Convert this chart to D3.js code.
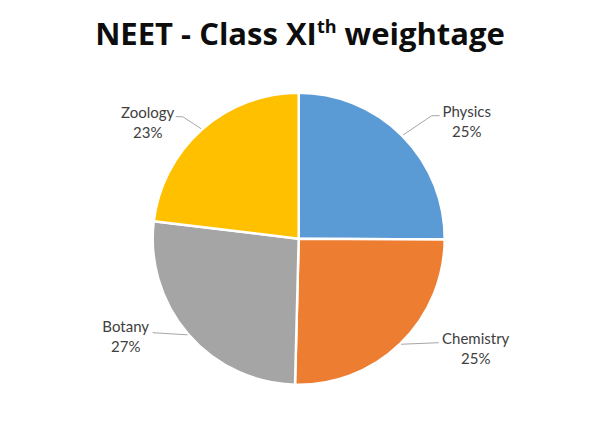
<!DOCTYPE html>
<html>
<head>
<meta charset="utf-8">
<script src="https://cdn.jsdelivr.net/npm/d3@7"></script>
<style>
  body { margin: 0; background: #fff; }
</style>
</head>
<body>
<div id="chart"></div>
<script>
// data
const subjects = ['Physics', 'Chemistry', 'Botany', 'Zoology'];
const weights = [25.1, 25.3, 26.5, 23.1];
const colors = ['#5B9BD5', '#ED7D31', '#A5A5A5', '#FFC000'];

const sWidth = 600, sHeight = 427;
const cx = 298.7, cy = 238.7, radius = 146;

// leader elbow / text placement (Excel best-fit style), relative to centre
const labelLayout = {
  Physics:   { elbow: [133, -123], end: [141, -123], tx: 168, ty: -122 },
  Chemistry: { elbow: [140, 104], end: [140, 104], tx: 177, ty: 105 },
  Botany:    { elbow: [-146, 94], end: [-146, 94], tx: -173, ty: 93 },
  Zoology:   { elbow: [-116, -122], end: [-123, -122], tx: -151, ty: -121 }
};

const data = subjects.map((s, i) => ({ name: s, value: weights[i], color: colors[i] }));
const total = d3.sum(weights);

const svg = d3.select('#chart').append('svg')
  .attr('width', sWidth)
  .attr('height', sHeight);

// title
const title = svg.append('text')
  .attr('x', sWidth / 2)
  .attr('y', 45)
  .attr('text-anchor', 'middle')
  .style('font-family', '"Open Sans", sans-serif')
  .style('font-weight', 700)
  .style('font-size', '31px')
  .style('fill', '#0d0d0d');
title.append('tspan').text('NEET - Class XI');
title.append('tspan').attr('dy', -12).style('font-size', '18px').text('th');
title.append('tspan').attr('dy', 12).text(' weightage');

const pie = d3.pie()
  .sort(null)
  .value(d => d.value);

const arc = d3.arc()
  .innerRadius(0)
  .outerRadius(radius);

const arcs = pie(data);

const g = svg.append('g')
  .attr('transform', 'translate(' + cx + ',' + cy + ')');

g.selectAll('path')
  .data(arcs)
  .join('path')
    .attr('d', arc)
    .attr('fill', d => d.data.color)
    .attr('stroke', '#fff')
    .attr('stroke-width', 2.5)
    .attr('stroke-linejoin', 'round');

// leader lines
g.selectAll('polyline')
  .data(arcs)
  .join('polyline')
    .attr('points', d => {
      const a = (d.startAngle + d.endAngle) / 2;
      const start = [Math.sin(a) * (radius + 1), -Math.cos(a) * (radius + 1)];
      const lay = labelLayout[d.data.name];
      return [start, lay.elbow, lay.end].map(p => p.join(',')).join(' ');
    })
    .attr('fill', 'none')
    .attr('stroke', '#a6a6a6')
    .attr('stroke-width', 1);

// labels
const labels = g.selectAll('text.lbl')
  .data(arcs)
  .join('text')
    .attr('class', 'lbl')
    .attr('text-anchor', 'middle')
    .style('font-family', 'Lato, sans-serif')
    .style('font-size', '15px')
    .style('fill', '#404040');

labels.append('tspan')
  .attr('x', d => labelLayout[d.data.name].tx)
  .attr('y', d => labelLayout[d.data.name].ty)
  .text(d => d.data.name);

labels.append('tspan')
  .attr('x', d => labelLayout[d.data.name].tx)
  .attr('y', d => labelLayout[d.data.name].ty + 20)
  .text(d => Math.round(d.data.value / total * 100) + '%');
</script>
</body>
</html>
